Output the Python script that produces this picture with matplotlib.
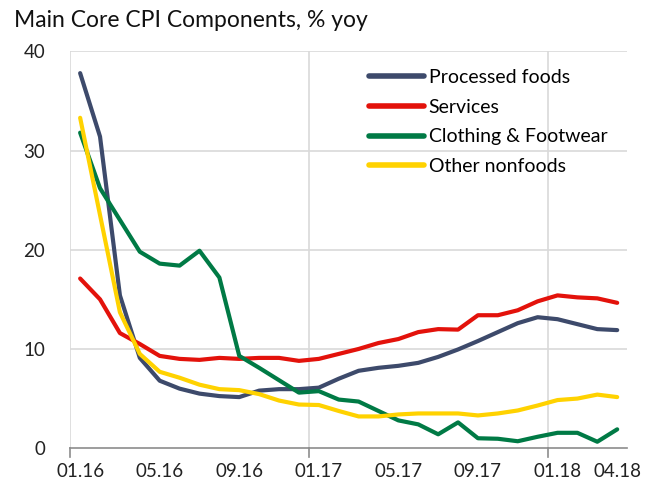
import matplotlib.pyplot as plt

# Monthly data, 01.16 .. 04.18
months = ['01.16', '02.16', '03.16', '04.16', '05.16', '06.16', '07.16', '08.16',
          '09.16', '10.16', '11.16', '12.16', '01.17', '02.17', '03.17', '04.17',
          '05.17', '06.17', '07.17', '08.17', '09.17', '10.17', '11.17', '12.17',
          '01.18', '02.18', '03.18', '04.18']

processed_foods = [37.8, 31.4, 15.4, 9.1, 6.8, 6.0, 5.5, 5.25, 5.15, 5.8, 5.95, 5.95,
                   6.1, 7.0, 7.8, 8.1, 8.3, 8.6, 9.2, 9.95, 10.8, 11.7, 12.6, 13.2,
                   13.0, 12.5, 12.0, 11.9]
services = [17.1, 15.0, 11.6, 10.5, 9.3, 9.0, 8.9, 9.1, 9.0, 9.1, 9.1, 8.8,
            9.0, 9.5, 10.0, 10.6, 11.0, 11.7, 12.0, 11.95, 13.4, 13.4, 13.9, 14.8,
            15.4, 15.2, 15.1, 14.65]
clothing = [31.8, 26.2, 23.0, 19.8, 18.6, 18.4, 19.9, 17.2, 9.3, 8.1, 6.85, 5.6,
            5.75, 4.9, 4.7, 3.75, 2.8, 2.4, 1.4, 2.6, 1.0, 0.95, 0.7, 1.15,
            1.55, 1.55, 0.65, 1.9]
other_nonfoods = [33.3, 23.5, 13.7, 9.5, 7.7, 7.1, 6.4, 5.95, 5.85, 5.45, 4.8, 4.4,
                  4.35, 3.75, 3.2, 3.2, 3.4, 3.5, 3.5, 3.5, 3.3, 3.5, 3.8, 4.3,
                  4.85, 5.0, 5.4, 5.15]

tick_pos = [0, 4, 8, 12, 16, 20, 24, 27]
tick_labels = [months[i] for i in tick_pos]

plt.rcParams['font.family'] = ['Lato', 'DejaVu Sans']

fig = plt.figure(figsize=(6.56, 4.84), dpi=100)
ax = fig.add_axes([0.107, 0.074, 0.849, 0.820])

x = range(len(months))
ax.plot(x, processed_foods, color='#3d4a6b', lw=3.0, label='Processed foods', solid_capstyle='round')
ax.plot(x, services, color='#e3120b', lw=3.0, label='Services', solid_capstyle='round')
ax.plot(x, clothing, color='#007a45', lw=3.0, label='Clothing & Footwear', solid_capstyle='round')
ax.plot(x, other_nonfoods, color='#ffd200', lw=3.0, label='Other nonfoods', solid_capstyle='round')

ax.set_xlim(-0.5, 27.5)
ax.set_ylim(0, 40)
ax.set_yticks([0, 10, 20, 30, 40])
ax.set_xticks(tick_pos)
ax.set_xticklabels(tick_labels)
ax.tick_params(axis='both', labelsize=13.5, length=0, colors='#222222')
ax.tick_params(axis='x', pad=11)
ax.tick_params(axis='y', pad=18)

# grid
for yv in [10, 20, 30, 40]:
    ax.axhline(yv, color='#d9d9d9', lw=1.2, zorder=0)
for xv in [-0.5, 11.5, 23.5]:
    ax.axvline(xv, color='#d9d9d9', lw=1.2, zorder=0)
    ax.plot([xv, xv], [0, -0.9], color='#8c8c8c', lw=1.2, clip_on=False)

for s in ['top', 'right', 'left']:
    ax.spines[s].set_visible(False)
ax.spines['bottom'].set_color('#8c8c8c')
ax.spines['bottom'].set_linewidth(1.2)

leg = ax.legend(loc='upper right', bbox_to_anchor=(0.996, 1.0), frameon=False,
                fontsize=14, handlelength=2.8, handletextpad=0.25, labelspacing=0.66)
for h in leg.get_lines():
    h.set_linewidth(4)

fig.text(0.022, 0.957, 'Main Core CPI Components, % yoy', fontsize=16.5, color='#111111',
         ha='left', va='center')

plt.savefig('out.png', dpi=100)
